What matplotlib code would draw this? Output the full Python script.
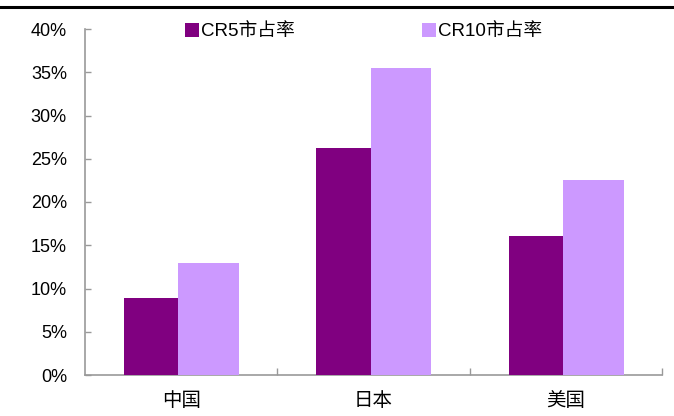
import matplotlib.pyplot as plt
from matplotlib.lines import Line2D
from matplotlib.patches import Patch
import numpy as np

plt.rcParams['font.family'] = ['Liberation Sans', 'Noto Sans CJK SC', 'DejaVu Sans']

countries = ["中国", "日本", "美国"]
cr5 = [8.9, 26.2, 16.1]
cr10 = [12.9, 35.5, 22.6]
series_names = ["CR5市占率", "CR10市占率"]
yticks = [0, 5, 10, 15, 20, 25, 30, 35, 40]

c5 = "#800080"
c10 = "#CC99FF"
grey = "#999999"

W, H = 674, 416
fig = plt.figure(figsize=(W / 100, H / 100), dpi=100)
ax = fig.add_axes([85 / W, 1 - 375 / H, (662 - 85) / W, (375 - 29) / H])

x = np.arange(len(countries))
ax.bar(x - 0.297, cr5, width=0.283, align="edge", color=c5, zorder=1)
ax.bar(x - 0.014, cr10, width=0.314, align="edge", color=c10, zorder=1)

ax.set_xlim(-0.5, 2.5)
ax.set_ylim(0, 40)

for s in ["top", "right"]:
    ax.spines[s].set_visible(False)
for s in ["left", "bottom"]:
    ax.spines[s].set_color(grey)
    ax.spines[s].set_linewidth(1.2)
    ax.spines[s].set_zorder(0)

ax.set_yticks(yticks)
ax.set_yticklabels([f"{v}%" for v in yticks], fontsize=13)
ax.tick_params(axis="y", direction="in", length=4, width=1, color=grey, pad=13)

ax.set_xticks(x)
ax.set_xticklabels(countries, fontsize=14, family=['Noto Sans CJK SC'])
ax.set_xticks([0.5, 1.5, 2.5], minor=True)
ax.tick_params(axis="x", which="major", length=0, pad=11)
ax.tick_params(axis="x", which="minor", direction="in", length=5, width=1, color=grey)

handles = [Patch(facecolor=c5), Patch(facecolor=c10)]
ax.legend(handles, series_names, ncol=2, loc="center left",
          bbox_to_anchor=((185 - 85) / (662 - 85), 1 - (31.5 - 29) / (375 - 29)),
          frameon=False, fontsize=13.5, handlelength=0.75, handleheight=0.75,
          handletextpad=0.1, columnspacing=6.8, borderpad=0, borderaxespad=0)

# thick black rule at the top of the figure
fig.add_artist(Line2D([0, 1], [1 - 7 / H, 1 - 7 / H], color="black", lw=2.2,
                      transform=fig.transFigure))

fig.savefig("out.png", dpi=100)
